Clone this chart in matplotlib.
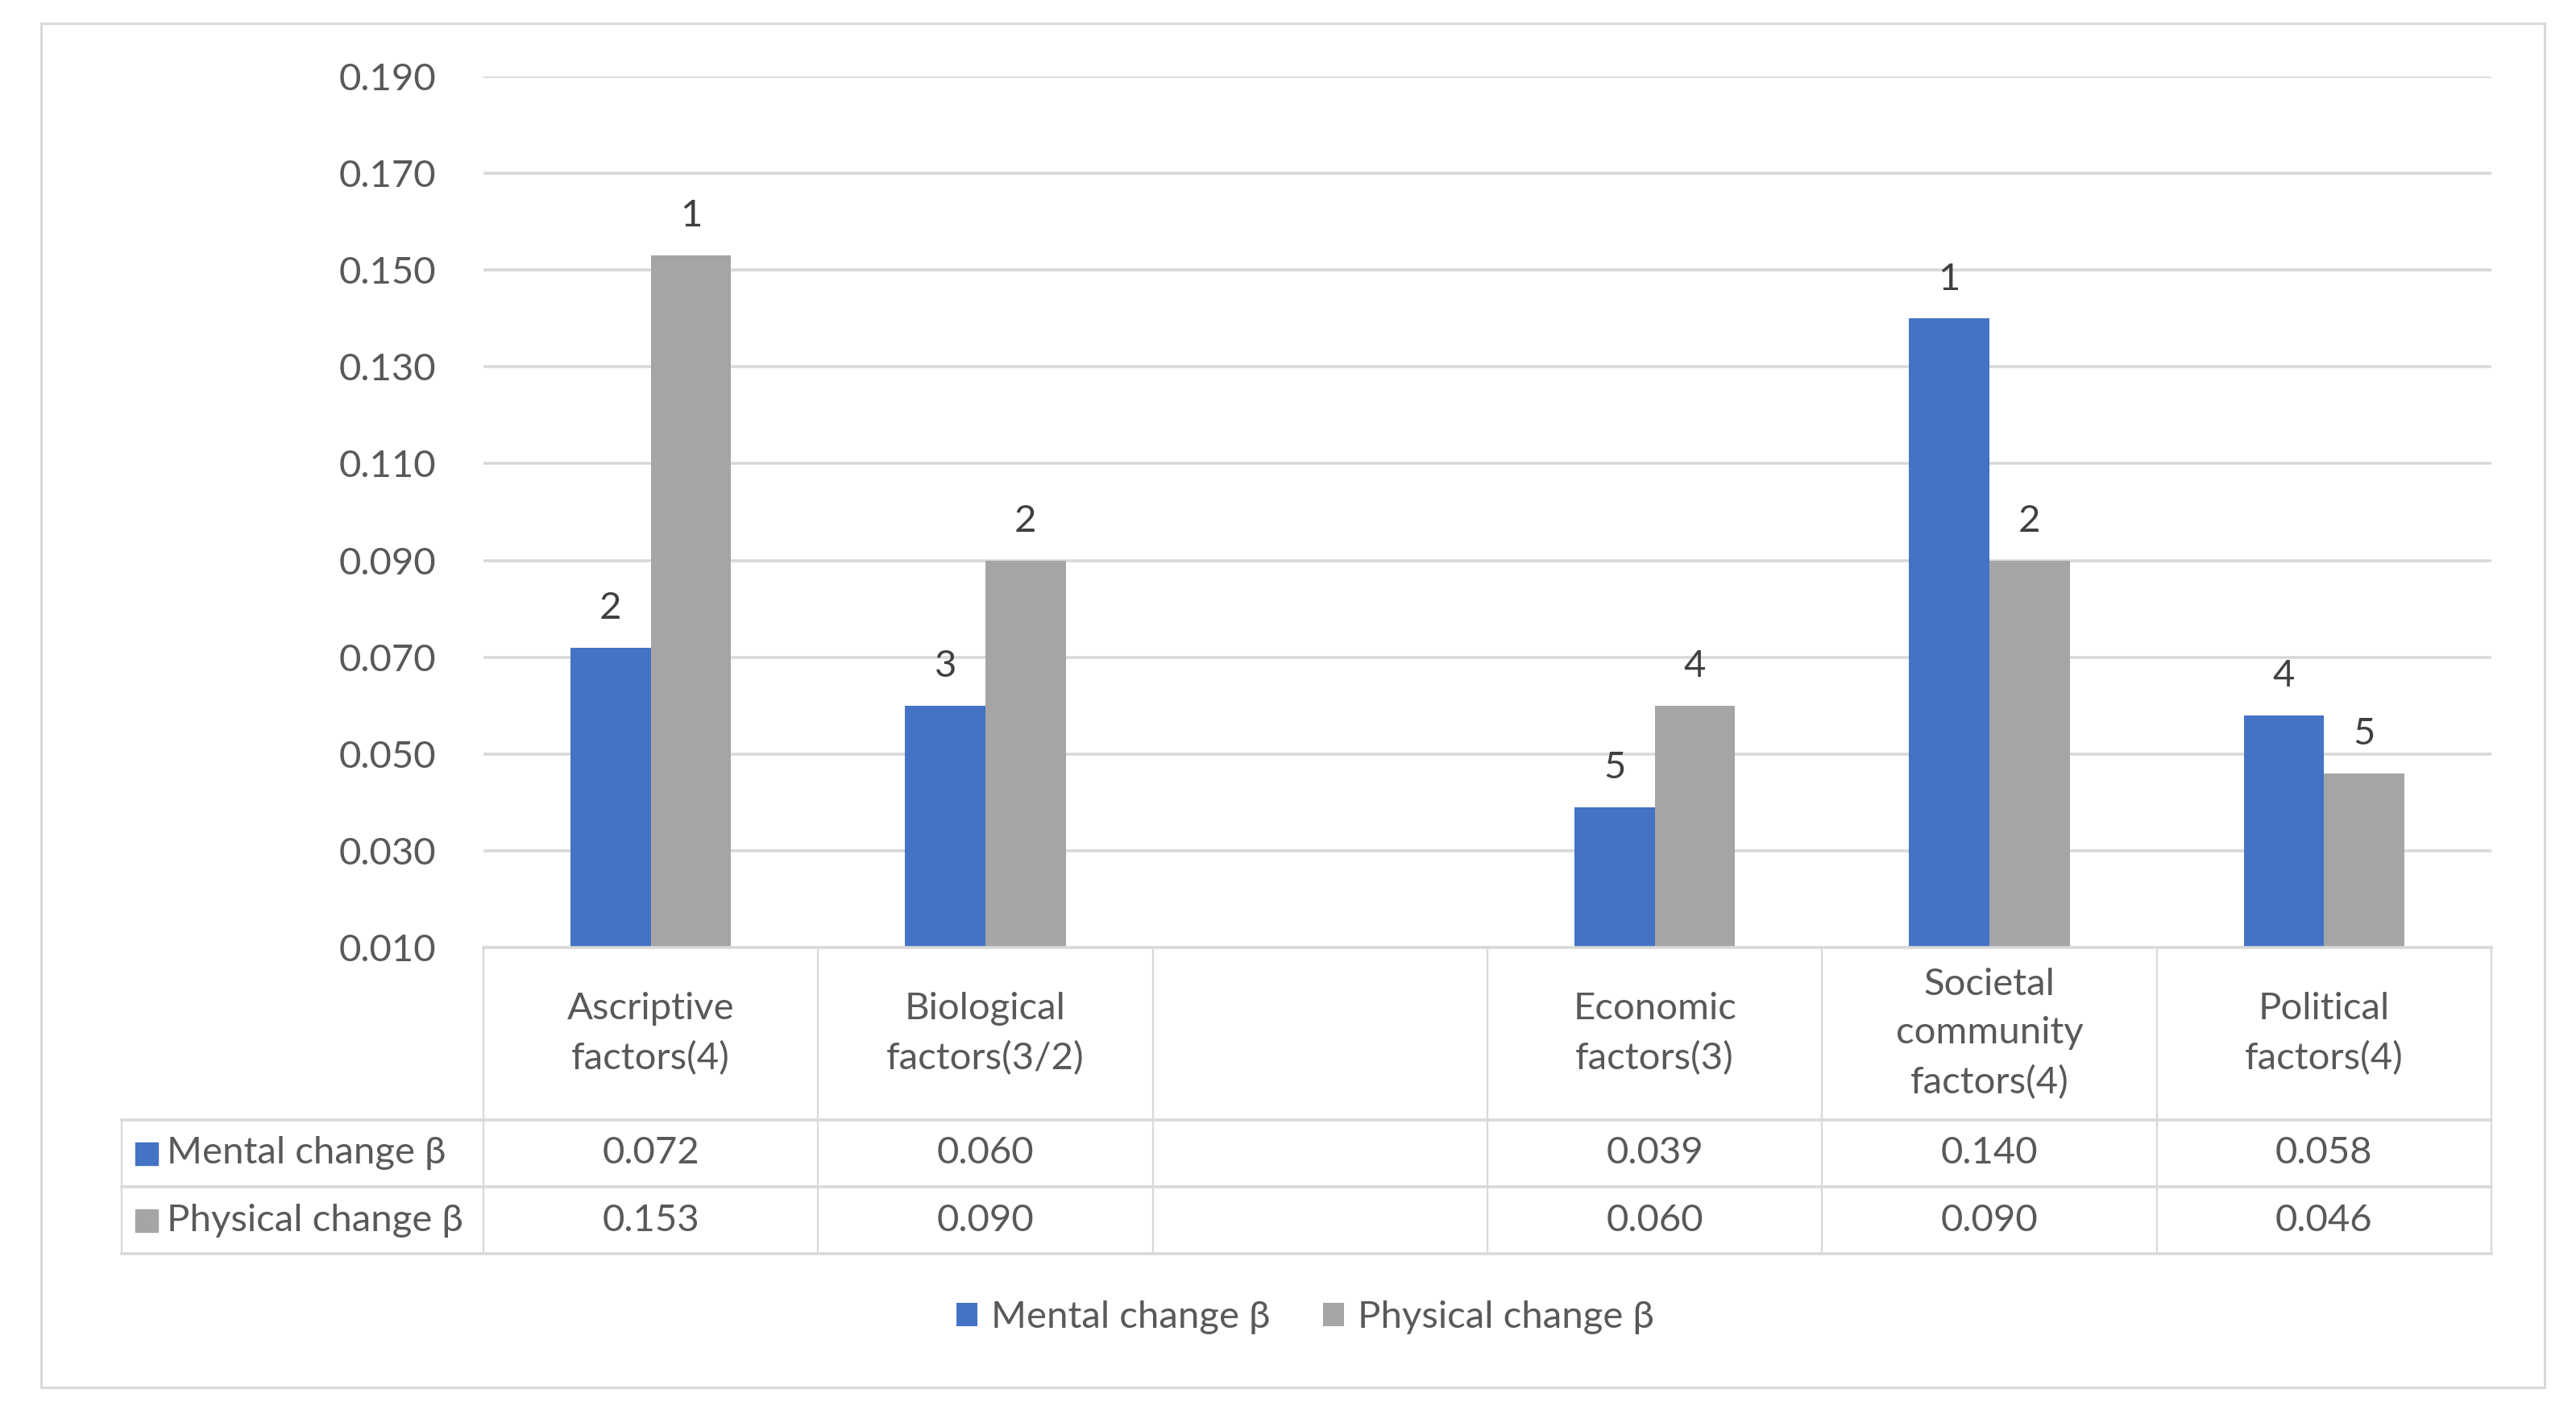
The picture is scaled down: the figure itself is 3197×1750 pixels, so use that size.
import matplotlib
matplotlib.use("Agg")
import matplotlib.pyplot as plt
import matplotlib.transforms as mtransforms
from matplotlib.patches import Rectangle
from matplotlib.lines import Line2D
import numpy as np

plt.rcParams["font.family"] = ["Lato", "DejaVu Sans"]

categories = [
    "Ascriptive\nfactors(4)",
    "Biological\nfactors(3/2)",
    "",
    "Economic\nfactors(3)",
    "Societal\ncommunity\nfactors(4)",
    "Political\nfactors(4)",
]
mental = [0.072, 0.060, np.nan, 0.039, 0.140, 0.058]
physical = [0.153, 0.090, np.nan, 0.060, 0.090, 0.046]
mental_rank = ["2", "3", "", "5", "1", "4"]
physical_rank = ["1", "2", "", "4", "2", "5"]
series_names = ["Mental change β", "Physical change β"]
y_ticks = [0.010, 0.030, 0.050, 0.070, 0.090, 0.110, 0.130, 0.150, 0.170, 0.190]

BLUE = "#4472C4"
GRAY = "#A5A5A5"
TEXT = "#595959"
LINE = "#D9D9D9"
FS = 34

W, H = 3197, 1750
fig = plt.figure(figsize=(W / 100, H / 100), dpi=100)


def fx(x):
    return x / W


def fy(y):
    return 1 - y / H


# outer chart frame
fig.add_artist(Rectangle((fx(51), fy(1722)), fx(3158) - fx(51), fy(29) - fy(1722),
                         transform=fig.transFigure, fill=False, edgecolor=LINE, lw=2.2))

ax_left, ax_right, ax_top, ax_bot = 600, 3092, 95, 1176
ax = fig.add_axes([fx(ax_left), fy(ax_bot), fx(ax_right) - fx(ax_left), fy(ax_top) - fy(ax_bot)])

x = np.arange(len(categories))
bw = 0.24
b1 = ax.bar(x - bw / 2, mental, bw, color=BLUE, label=series_names[0])
b2 = ax.bar(x + bw / 2, physical, bw, color=GRAY, label=series_names[1])

for bars, ranks in ((b1, mental_rank), (b2, physical_rank)):
    for rect, r in zip(bars, ranks):
        h = rect.get_height()
        if np.isnan(h):
            continue
        ax.annotate(r, (rect.get_x() + rect.get_width() / 2, h), xytext=(0, 20),
                    textcoords="offset points", ha="center", va="bottom",
                    fontsize=FS, color="#404040")

ax.set_xlim(-0.5, len(categories) - 0.5)
ax.set_ylim(y_ticks[0], y_ticks[-1])
ax.set_yticks(y_ticks)
ax.set_yticklabels([f"{t:.3f}" for t in y_ticks])
ax.set_xticks([])
ax.tick_params(axis="y", length=0, pad=42, labelsize=FS, labelcolor=TEXT)
ax.grid(axis="y", color=LINE, lw=2.6)
ax.set_axisbelow(True)
for s in ax.spines.values():
    s.set_visible(False)

# data table below the plot
blend = mtransforms.blended_transform_factory(ax.transData, fig.transFigure)
rows_y = [1176, 1390, 1473, 1556]
tab_left = 151

for xb in np.arange(-0.5, len(categories), 1.0):
    fig.add_artist(Line2D([xb, xb], [fy(rows_y[0]), fy(rows_y[-1])], transform=blend,
                          color=LINE, lw=1.6))
fig.add_artist(Line2D([fx(tab_left), fx(tab_left)], [fy(rows_y[1]), fy(rows_y[-1])],
                      transform=fig.transFigure, color=LINE, lw=1.6))
fig.add_artist(Line2D([fx(ax_left), fx(ax_right)], [fy(rows_y[0]), fy(rows_y[0])],
                      transform=fig.transFigure, color=LINE, lw=2.6))
for yy in rows_y[1:]:
    fig.add_artist(Line2D([fx(tab_left), fx(ax_right)], [fy(yy), fy(yy)],
                          transform=fig.transFigure, color=LINE, lw=2.6))

cat_mid = fy((rows_y[0] + rows_y[1]) / 2)
for xi, cat in zip(x, categories):
    fig.text(xi, cat_mid, cat, transform=blend, ha="center", va="center",
             fontsize=FS, color=TEXT, linespacing=1.55)

for r, (vals, name, col) in enumerate(zip((mental, physical), series_names, (BLUE, GRAY))):
    mid = (rows_y[r + 1] + rows_y[r + 2]) / 2
    for xi, v in zip(x, vals):
        if np.isnan(v):
            continue
        fig.text(xi, fy(mid), f"{v:.3f}", transform=blend, ha="center", va="center",
                 fontsize=FS, color=TEXT)
    fig.add_artist(Rectangle((fx(168), fy(mid + 14)), fx(28), 28 / H,
                             transform=fig.transFigure, color=col))
    fig.text(fx(207), fy(mid), name, ha="left", va="center", fontsize=FS, color=TEXT)

fig.legend(handles=[b1, b2], labels=series_names, loc="center",
           bbox_to_anchor=(fx(1620), fy(1635)), ncol=2, frameon=False,
           fontsize=FS, labelcolor=TEXT, handlelength=0.55, handleheight=0.55,
           handletextpad=0.35, columnspacing=1.4)

fig.savefig("out.png", dpi=100)
